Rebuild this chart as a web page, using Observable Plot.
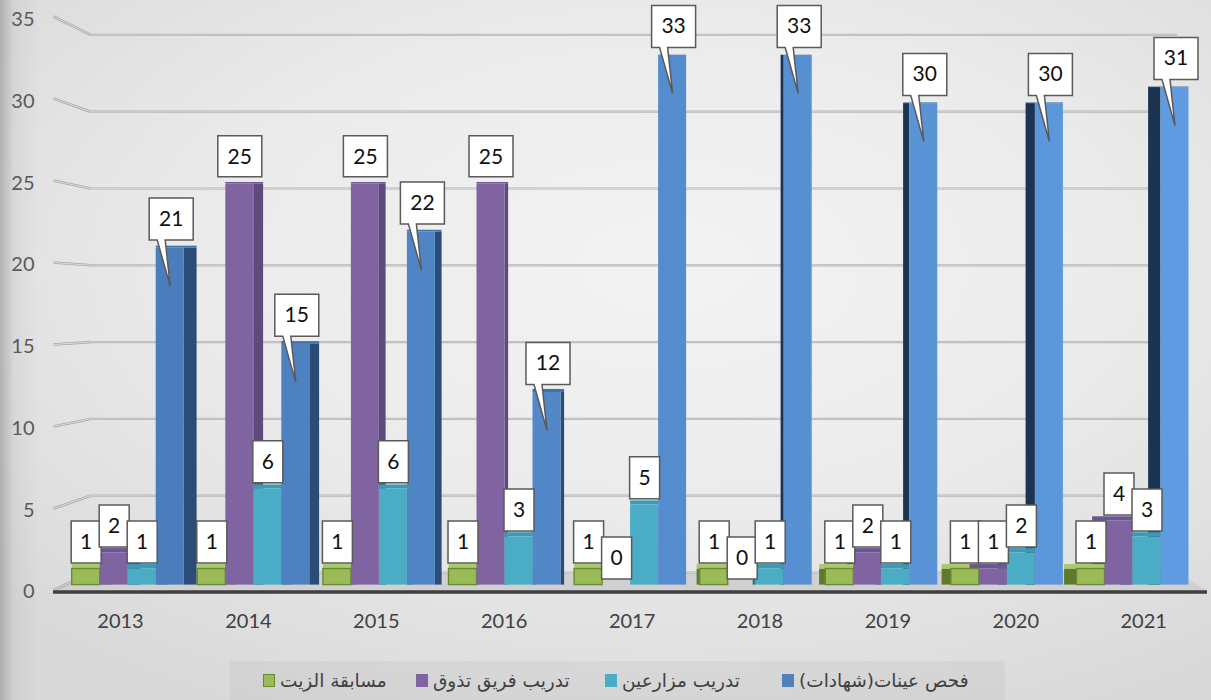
<!DOCTYPE html>
<html><head><meta charset="utf-8">
<script src="https://cdn.jsdelivr.net/npm/d3@7"></script>
<script src="https://cdn.jsdelivr.net/npm/@observablehq/plot@0.6"></script>
<style>
html,body{margin:0;padding:0;}
body{width:1211px;height:700px;overflow:hidden;position:relative;
 background:
  linear-gradient(90deg, rgba(120,120,120,0.45) 0px, rgba(160,160,160,0.15) 14px, rgba(0,0,0,0) 40px),
  radial-gradient(ellipse 75% 70% at 55% 38%, #f3f3f3 0%, #ebebeb 50%, #d9d9d9 100%);}
#chart{position:absolute;left:0;top:0;}
#legend{position:absolute;left:230px;top:661px;width:775px;height:39px;background:rgba(0,0,0,0.035);
 font-family:"DejaVu Sans",sans-serif;font-size:18.5px;color:#404040;}
.item{position:absolute;top:0;height:39px;display:flex;align-items:center;white-space:nowrap;}
.sw{width:12px;height:13px;margin-right:5px;box-sizing:border-box;}
</style></head><body>
<div id="chart"></div><div id="legend"></div>
<script>
// ---- data ----
const years = [2013, 2014, 2015, 2016, 2017, 2018, 2019, 2020, 2021];
const seriesNames = ["مسابقة الزيت", "تدريب فريق تذوق", "تدريب مزارعين", "فحص عينات(شهادات)"];
const oilContest     = [1, 1, 1, 1, 1, 1, 1, 1, 1];
const tastingTeam    = [2, 25, 25, 25, 0, 0, 2, 1, 4];
const farmerTraining = [1, 6, 6, 3, 5, 1, 1, 2, 3];
const sampleTests    = [21, 15, 22, 12, 33, 33, 30, 30, 31];
const yTicks = [0, 5, 10, 15, 20, 25, 30, 35];

// ---- styles ----
const seriesValues = [oilContest, tastingTeam, farmerTraining, sampleTests];
const palette = {
  front: ["#9bbb59", "#8064a2", "#4bacc6", "#4f81bd"],
  sideR: ["#76923c", "#5e4a7b", "#3a8ba3", "#2c4c78"],
  sideL: ["#5f7a2c", "#4a3a63", "#2d7288", "#1d3352"],
  top:   ["#aac86c", "#6c5590", "#3c9ab4", "#416fa6"]
};
const blueScale = d3.interpolateRgb("#4a7dba", "#5f9be0");

// ---- geometry (pixel <-> data units) ----
const W = 1211, H = 650, ML = 53, MR = 4;
const PX0 = 127.7, PXY = 125.6;     // px of first cluster centre, px per year
const Y0 = 584.6, PYV = 16.05;      // px of value 0, px per unit
const X = p => years[0] + (p - PX0) / PXY;
const Y = p => (Y0 - p) / PYV;
const BW = 28 / PXY;

const rows = years.flatMap((year, i) => seriesValues.map((vals, s) => ({year, i, s, value: vals[i]})));
const left = d => d.year + (d.s - 2) * BW;
const right = d => left(d) + BW;
const center = d => left(d) + BW / 2;
const depth = d => (3.1 * (4 - d.i) + (d.i < 4 ? 0.5 : 0)) / PXY;
const topH = v => 4.5 * (35 - v) / 34 / PYV;
const frontColor = d => d.s === 3 ? blueScale(d.i / 8) : palette.front[d.s];
const sideColor = d => depth(d) > 0 ? palette.sideR[d.s] : palette.sideL[d.s];

// ---- label box symbols ----
function boxSymbol(pts) {
  return {draw(ctx) { ctx.moveTo(pts[0][0], pts[0][1]); for (const p of pts.slice(1)) ctx.lineTo(p[0], p[1]); ctx.closePath(); }};
}
const box1 = boxSymbol([[-15,-48],[15,-48],[15,-6],[-15,-6]]);
const box2 = boxSymbol([[-22,-48],[22,-48],[22,-7],[-22,-7]]);
const callout = boxSymbol([[-21,-50],[23,-50],[23,-8],[-5,-8],[0,38],[-13,-8],[-21,-8]]);

const positive = rows.filter(d => d.value > 0 && depth(d) !== 0);
const fronts = rows.filter(d => d.value > 0);
const small = rows.filter(d => d.s < 3);
const blue = rows.filter(d => d.s === 3);
const labelFont = {fontFamily: "Lato, 'Open Sans', sans-serif", fontSize: 21, fill: "#111"};

const gridBackY = v => Y(572 - 15.36 * v);
const gridFrontY = v => Y(590 - 16.4 * v);

const floorPts = [
  {x: X(53), a: Y(591), b: Y(591)},
  {x: X(90), a: Y(591), b: Y(572)},
  {x: X(1177), a: Y(591), b: Y(572)},
  {x: X(1207), a: Y(591), b: Y(591)}
];

const marks = [
  // floor
  Plot.areaY(floorPts, {x: "x", y1: "a", y2: "b", fill: "#d0d0d0"}),
  // gridlines: left wall and back wall
  Plot.link(yTicks, {x1: X(53), y1: gridFrontY, x2: X(90), y2: gridBackY, stroke: "#a9a9a9", strokeWidth: 2.6}),
  Plot.link(yTicks, {x1: X(53), y1: gridFrontY, x2: X(90), y2: gridBackY, stroke: "#e2e2e2", strokeWidth: 0.9}),
  Plot.ruleY(yTicks, {y: gridBackY, x1: X(90), x2: X(1177), stroke: "#b3b3b3", strokeWidth: 2.2}),
  Plot.ruleY(yTicks, {y: gridBackY, x1: X(90), x2: X(1177), stroke: "#dedede", strokeWidth: 0.7}),
  // front edge of floor
  Plot.ruleY([Y(591.5)], {stroke: "#3f3f3f", strokeWidth: 3.5}),
  // side faces
  Plot.rect(positive, {
    x1: d => depth(d) > 0 ? right(d) : left(d) + depth(d),
    x2: d => depth(d) > 0 ? right(d) + depth(d) : left(d),
    y1: 0, y2: "value", fill: sideColor
  }),
  // top faces
  Plot.rect(fronts, {
    x1: d => Math.min(left(d), left(d) + depth(d)),
    x2: d => Math.max(right(d), right(d) + depth(d)),
    y1: "value", y2: d => d.value + topH(d.value), fill: d => palette.top[d.s]
  }),
  // front faces
  Plot.rect(fronts, {
    x1: left, x2: right, y1: 0, y2: "value", fill: frontColor,
    stroke: d => d.s === 0 ? "#6a8a32" : "none", strokeWidth: 1.4
  })
];

// data labels for first three series, drawn series by series
for (let s = 0; s < 3; s++) {
  const one = small.filter(d => d.s === s && d.value < 10);
  const two = small.filter(d => d.s === s && d.value >= 10);
  marks.push(
    Plot.dot(one, {x: center, y: "value", symbol: box1, fill: "white", stroke: "#5a5a5a", strokeWidth: 1.5}),
    Plot.dot(two, {x: center, y: "value", symbol: box2, fill: "white", stroke: "#5a5a5a", strokeWidth: 1.5}),
    Plot.text(one.concat(two), {x: center, y: "value", text: d => String(d.value), dy: -27, lineAnchor: "middle", ...labelFont})
  );
}
// callouts for the blue series
marks.push(
  Plot.dot(blue, {x: center, y: "value", symbol: callout, fill: "white", stroke: "#5a5a5a", strokeWidth: 1.5}),
  Plot.text(blue, {x: d => center(d) + 1 / PXY, y: "value", text: d => String(d.value), dy: -29, lineAnchor: "middle", ...labelFont})
);
// axis labels
marks.push(
  Plot.text(yTicks, {frameAnchor: "left", dx: -19, y: v => Y(591.5 - 16.35 * v), text: v => String(v),
    textAnchor: "end", lineAnchor: "middle", fontFamily: "Lato, sans-serif", fontSize: 20, fill: "#595959"}),
  Plot.text(years, {x: yr => yr + (-7.7 + 2.3 * (yr - years[0])) / PXY, y: Y(621.5), text: yr => String(yr),
    lineAnchor: "middle", fontFamily: "Lato, sans-serif", fontSize: 20, fill: "#404040"})
);

const chart = Plot.plot({
  width: W, height: H,
  marginLeft: ML, marginRight: MR, marginTop: Y0 - 35 * PYV, marginBottom: H - Y0,
  x: {type: "linear", domain: [X(ML), X(W - MR)], axis: null},
  y: {type: "linear", domain: [0, 35], axis: null},
  style: {background: "transparent", overflow: "visible"},
  marks
});
document.getElementById("chart").appendChild(chart);

// legend
const legendX = [33, 186, 375, 552];
const legend = document.getElementById("legend");
seriesNames.forEach((name, s) => {
  const item = document.createElement("div");
  item.className = "item";
  item.style.left = legendX[s] + "px";
  const sw = document.createElement("div");
  sw.className = "sw";
  sw.style.background = palette.front[s];
  if (s === 0) sw.style.border = "1.5px solid #6a8a32";
  const tx = document.createElement("span");
  tx.textContent = name;
  tx.dir = "rtl";
  item.appendChild(sw); item.appendChild(tx);
  legend.appendChild(item);
});
</script>
</body></html>
